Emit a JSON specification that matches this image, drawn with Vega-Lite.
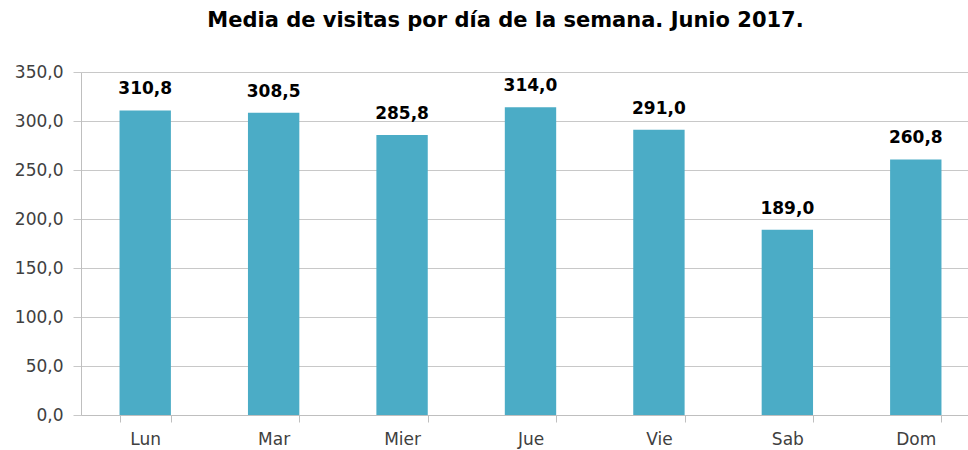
{
  "$schema": "https://vega.github.io/schema/vega-lite/v6.json",
  "autosize": {"type": "none"},
  "padding": {"left": 81, "top": 72, "right": 0, "bottom": 35},
  "width": 887,
  "height": 343,
  "title": {
    "text": "Media de visitas por día de la semana. Junio 2017.",
    "fontSize": 21,
    "font": "DejaVu Sans",
    "fontWeight": "bold",
    "color": "#000000",
    "anchor": "middle",
    "dx": -19,
    "offset": 32
  },
  "config": {
    "locale": {"number": {"decimal": ",", "thousands": ".", "grouping": [3], "currency": ["", " €"]}},
    "view": {"stroke": null},
    "font": "DejaVu Sans"
  },
  "data": {
    "values": [
      {"dia": "Lun", "visitas": 310.8},
      {"dia": "Mar", "visitas": 308.5},
      {"dia": "Mier", "visitas": 285.8},
      {"dia": "Jue", "visitas": 314.0},
      {"dia": "Vie", "visitas": 291.0},
      {"dia": "Sab", "visitas": 189.0},
      {"dia": "Dom", "visitas": 260.8}
    ]
  },
  "encoding": {
    "x": {
      "field": "dia",
      "type": "nominal",
      "sort": null,
      "scale": {"range": [0, 899], "paddingInner": 0.6, "paddingOuter": 0.3},
      "axis": {
        "title": null,
        "labelAngle": 0,
        "labelFontSize": 17,
        "labelColor": "#404040",
        "labelPadding": 9,
        "tickBand": "extent",
        "tickSize": 7,
        "tickColor": "#bfbfbf",
        "domainColor": "#bfbfbf",
        "grid": false
      }
    },
    "y": {
      "field": "visitas",
      "type": "quantitative",
      "scale": {"domain": [0, 350]},
      "axis": {
        "title": null,
        "values": [0, 50, 100, 150, 200, 250, 300, 350],
        "format": ".1f",
        "labelFontSize": 17,
        "labelColor": "#404040",
        "labelPadding": 10,
        "tickSize": 8,
        "tickColor": "#c8c8c8",
        "domainColor": "#bfbfbf",
        "gridColor": "#c8c8c8"
      }
    }
  },
  "layer": [
    {"mark": {"type": "bar", "color": "#4BACC6"}},
    {
      "mark": {"type": "text", "baseline": "bottom", "dy": -12, "fontSize": 17, "fontWeight": "bold", "color": "#000000"},
      "encoding": {"text": {"field": "visitas", "type": "quantitative", "format": ".1f"}}
    }
  ]
}
